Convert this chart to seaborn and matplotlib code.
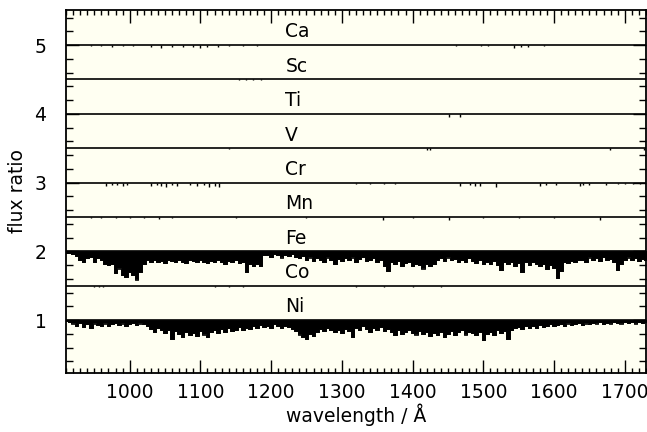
import numpy as np
import pandas as pd
import matplotlib
matplotlib.use("Agg")
import matplotlib.pyplot as plt
import seaborn as sns
from matplotlib.ticker import MultipleLocator

# ---------------- data ----------------
elements = ["Ca", "Sc", "Ti", "V", "Cr", "Mn", "Fe", "Co", "Ni"]
offsets = [5.0, 4.5, 4.0, 3.5, 3.0, 2.5, 2.0, 1.5, 1.0]

# wavelength grid (Å) for the strong-absorption spectra
grid_wl = np.arange(910, 1731, 5)

fe_depth = [
    0.03, 0.03, 0.04, 0.07, 0.13, 0.15, 0.10, 0.08, 0.15, 0.10,
    0.13, 0.18, 0.20, 0.18, 0.32, 0.25, 0.35, 0.37, 0.30, 0.35,
    0.41, 0.30, 0.18, 0.13, 0.16, 0.12, 0.15, 0.14, 0.17, 0.12,
    0.14, 0.16, 0.13, 0.15, 0.17, 0.12, 0.14, 0.16, 0.13, 0.15,
    0.17, 0.14, 0.16, 0.12, 0.15, 0.18, 0.14, 0.16, 0.13, 0.17,
    0.15, 0.30, 0.19, 0.21, 0.18, 0.22, 0.06, 0.05, 0.08, 0.04,
    0.06, 0.09, 0.05, 0.07, 0.04, 0.08, 0.10, 0.07, 0.12, 0.09,
    0.14, 0.10, 0.13, 0.16, 0.09, 0.12, 0.18, 0.11, 0.14, 0.10,
    0.13, 0.09, 0.15, 0.11, 0.08, 0.14, 0.12, 0.10, 0.15, 0.13,
    0.22, 0.28, 0.16, 0.19, 0.14, 0.21, 0.17, 0.15, 0.22, 0.18,
    0.20, 0.25, 0.18, 0.22, 0.19, 0.12, 0.10, 0.14, 0.09, 0.13,
    0.11, 0.15, 0.12, 0.16, 0.10, 0.14, 0.17, 0.12, 0.18, 0.15,
    0.19, 0.14, 0.20, 0.27, 0.16, 0.19, 0.15, 0.21, 0.17, 0.30,
    0.16, 0.20, 0.15, 0.19, 0.22, 0.18, 0.26, 0.20, 0.24, 0.39,
    0.28, 0.15, 0.17, 0.14, 0.16, 0.13, 0.12, 0.15, 0.09, 0.13,
    0.10, 0.14, 0.08, 0.12, 0.11, 0.15, 0.27, 0.18, 0.12, 0.09,
    0.13, 0.10, 0.14, 0.11, 0.12,
]

ni_depth = [
    0.02, 0.03, 0.05, 0.08, 0.04, 0.10, 0.06, 0.12, 0.05, 0.07,
    0.09, 0.05, 0.08, 0.06, 0.04, 0.07, 0.05, 0.08, 0.06, 0.04,
    0.07, 0.05, 0.06, 0.09, 0.13, 0.18, 0.12, 0.15, 0.19, 0.14,
    0.27, 0.16, 0.20, 0.24, 0.17, 0.22, 0.19, 0.23, 0.16, 0.21,
    0.24, 0.18, 0.15, 0.19, 0.13, 0.17, 0.12, 0.16, 0.14, 0.10,
    0.15, 0.11, 0.13, 0.09, 0.12, 0.07, 0.10, 0.08, 0.11, 0.06,
    0.09, 0.12, 0.08, 0.10, 0.13, 0.16, 0.21, 0.25, 0.27, 0.20,
    0.23, 0.17, 0.13, 0.16, 0.12, 0.15, 0.18, 0.14, 0.19, 0.13,
    0.16, 0.25, 0.12, 0.15, 0.09, 0.13, 0.17, 0.11, 0.14, 0.10,
    0.16, 0.13, 0.18, 0.22, 0.15, 0.20, 0.17, 0.14, 0.19, 0.21,
    0.16, 0.20, 0.18, 0.23, 0.19, 0.22, 0.17, 0.24, 0.20, 0.16,
    0.22, 0.18, 0.15, 0.21, 0.17, 0.19, 0.22, 0.18, 0.29, 0.20,
    0.17, 0.22, 0.15, 0.19, 0.16, 0.27, 0.14, 0.12, 0.10, 0.13,
    0.09, 0.12, 0.08, 0.11, 0.07, 0.10, 0.08, 0.06, 0.09, 0.07,
    0.06, 0.08, 0.05, 0.07, 0.06, 0.04, 0.07, 0.05, 0.06, 0.04,
    0.05, 0.03, 0.06, 0.04, 0.05, 0.03, 0.04, 0.05, 0.03, 0.04,
    0.03, 0.05, 0.03, 0.04, 0.03,
]

# individual weak lines of the other elements (wavelength Å, depth)
ca_wl = [945, 960, 975, 990, 1005, 1030, 1045, 1060, 1075, 1090, 1100, 1110, 1125, 1140, 1160, 1180,
         1462, 1497, 1506, 1544, 1553, 1563, 1586]
ca_depth = [0.02, 0.02, 0.03, 0.02, 0.02, 0.03, 0.04, 0.03, 0.03, 0.03, 0.04, 0.03, 0.03, 0.02, 0.02, 0.02,
            0.02, 0.02, 0.02, 0.04, 0.03, 0.03, 0.02]
sc_wl = [1155, 1165, 1175, 1185]
sc_depth = [0.01, 0.01, 0.01, 0.01]
ti_wl = [1150, 1451, 1467]
ti_depth = [0.01, 0.05, 0.05]
v_wl = [1141, 1420, 1425, 1679, 1727]
v_depth = [0.015, 0.02, 0.02, 0.03, 0.02]
cr_wl = [967, 975, 982, 990, 996, 1030, 1038, 1045, 1052, 1060, 1067, 1085, 1095, 1105, 1112, 1120, 1127,
         1320, 1340, 1360, 1375, 1467, 1481, 1488, 1495, 1518, 1580, 1589, 1603, 1636, 1641, 1650,
         1674, 1690, 1700, 1712, 1722]
cr_depth = [0.05, 0.03, 0.04, 0.05, 0.03, 0.05, 0.04, 0.05, 0.06, 0.04, 0.05, 0.04, 0.05, 0.04, 0.06, 0.05, 0.06,
            0.02, 0.02, 0.02, 0.02, 0.05, 0.04, 0.05, 0.05, 0.06, 0.05, 0.04, 0.04, 0.05, 0.04, 0.03,
            0.03, 0.02, 0.02, 0.02, 0.02]
mn_wl = [945, 960, 980, 1000, 1020, 1042, 1060, 1150, 1250, 1358, 1400, 1452, 1500, 1550, 1600, 1665]
mn_depth = [0.02, 0.02, 0.02, 0.02, 0.02, 0.03, 0.02, 0.015, 0.015, 0.04, 0.02, 0.04, 0.02, 0.02, 0.02, 0.04]
co_wl = [950, 956, 962, 1120, 1140, 1160, 1320, 1360, 1400, 1440]
co_depth = [0.02, 0.02, 0.02, 0.015, 0.015, 0.015, 0.015, 0.015, 0.015, 0.015]

weak_lines = {
    "Ca": (ca_wl, ca_depth), "Sc": (sc_wl, sc_depth), "Ti": (ti_wl, ti_depth),
    "V": (v_wl, v_depth), "Cr": (cr_wl, cr_depth), "Mn": (mn_wl, mn_depth),
    "Co": (co_wl, co_depth),
}
strong = {"Fe": fe_depth, "Ni": ni_depth}

x_ticks = [1000, 1100, 1200, 1300, 1400, 1500, 1600, 1700]
y_ticks = [1, 2, 3, 4, 5]

# ---------------- figure ----------------
sns.set_theme(style="ticks")
plt.rcParams["font.family"] = ["DejaVu Sans"]

fig = plt.figure(figsize=(6.47, 4.32), dpi=100)
ax = fig.add_axes([66 / 647, 1 - 373 / 432, 580 / 647, 363 / 432])
ax.set_facecolor("#fffff2")

lw = 1.2
for el, off in zip(elements, offsets):
    ax.axhline(off, color="black", lw=lw, zorder=3)
    if el in strong:
        d = np.asarray(strong[el])
        ax.fill_between(grid_wl, off - d, off, step="mid", facecolor="black",
                        edgecolor="black", lw=0.6, zorder=2)
        sns.lineplot(x=grid_wl, y=off - d, color="black", lw=0.6, ax=ax, zorder=2,
                     drawstyle="steps-mid", estimator=None, sort=False)
    if el in weak_lines:
        wl, dep = weak_lines[el]
        ax.vlines(wl, off - np.asarray(dep), off, color="black", lw=1.0, zorder=2)
    ax.text(1220, off + 0.19, el, ha="left", va="center", fontsize=13.5, color="black")

ax.set_xlim(910, 1730)
ax.set_ylim(0.23, 5.51)
ax.set_xticks(x_ticks)
ax.set_yticks(y_ticks)
ax.xaxis.set_minor_locator(MultipleLocator(10))
ax.yaxis.set_minor_locator(MultipleLocator(0.2))

ax.tick_params(which="both", direction="in", top=True, right=True, colors="black",
               labelsize=13.5, width=1.0)
ax.tick_params(axis="x", which="major", length=9.5, pad=7)
ax.tick_params(axis="x", which="minor", length=3.8)
ax.tick_params(axis="y", which="major", length=9.5, pad=14)
ax.tick_params(axis="y", which="minor", length=5.0)

for s in ax.spines.values():
    s.set_color("black")
    s.set_linewidth(1.3)

ax.set_xlabel("wavelength / Å", fontsize=13.5, color="black")
ax.set_ylabel("flux ratio", fontsize=13.5, color="black")
ax.xaxis.set_label_coords(0.5, -0.085)
ax.xaxis.label.set_va("top")
ax.yaxis.set_label_coords(-0.083, 0.5)
ax.yaxis.label.set_va("center")
ax.yaxis.label.set_rotation_mode("anchor")

fig.savefig("out.png", dpi=100, facecolor="white")
